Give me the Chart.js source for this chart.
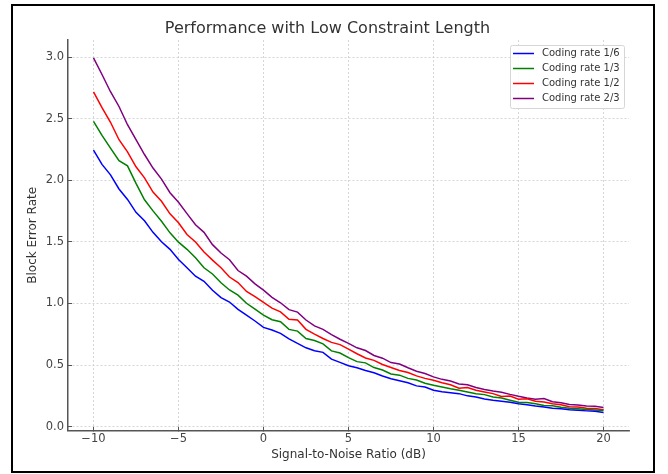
<!DOCTYPE html>
<html>
<head>
<meta charset="utf-8">
<script src="https://cdn.jsdelivr.net/npm/chart.js@4.4.0/dist/chart.umd.min.js"></script>
<style>
    html, body { margin: 0; padding: 0; background: #fff; }
    #wrap { width: 668px; height: 474px; position: relative; }
</style>
</head>
<body>
<div id="wrap"><canvas id="grafico"></canvas></div>
<script>

// SNR (dB)
const snr = [-10, -9.5, -9, -8.5, -8, -7.5, -7, -6.5, -6, -5.5, -5, -4.5, -4, -3.5, -3, -2.5, -2, -1.5, -1, -0.5,
    0, 0.5, 1, 1.5, 2, 2.5, 3, 3.5, 4, 4.5, 5, 5.5, 6, 6.5, 7, 7.5, 8, 8.5, 9, 9.5,
    10, 10.5, 11, 11.5, 12, 12.5, 13, 13.5, 14, 14.5, 15, 15.5, 16, 16.5, 17, 17.5, 18, 18.5, 19, 19.5, 20];

const rate16 = [2.245, 2.130, 2.045, 1.930, 1.845, 1.740, 1.672, 1.578, 1.502, 1.440, 1.358, 1.290, 1.222, 1.180, 1.108, 1.048, 1.012, 0.952, 0.905, 0.858,
    0.806, 0.785, 0.757, 0.712, 0.676, 0.640, 0.617, 0.603, 0.548, 0.522, 0.494, 0.478, 0.456, 0.438, 0.411, 0.389, 0.372, 0.356, 0.331, 0.322,
    0.296, 0.284, 0.276, 0.268, 0.250, 0.240, 0.225, 0.214, 0.206, 0.198, 0.186, 0.178, 0.168, 0.160, 0.150, 0.146, 0.137, 0.133, 0.128, 0.124, 0.115];

const rate13 = [2.480, 2.365, 2.262, 2.160, 2.118, 1.975, 1.842, 1.752, 1.668, 1.574, 1.498, 1.440, 1.372, 1.290, 1.240, 1.168, 1.110, 1.068, 1.002, 0.955,
    0.906, 0.868, 0.852, 0.790, 0.776, 0.716, 0.700, 0.672, 0.615, 0.598, 0.560, 0.528, 0.518, 0.480, 0.460, 0.428, 0.418, 0.392, 0.378, 0.352,
    0.336, 0.322, 0.308, 0.296, 0.282, 0.268, 0.260, 0.240, 0.232, 0.215, 0.198, 0.196, 0.186, 0.172, 0.170, 0.158, 0.150, 0.146, 0.140, 0.136, 0.132];

const rate12 = [2.718, 2.590, 2.472, 2.330, 2.232, 2.110, 2.020, 1.905, 1.830, 1.728, 1.655, 1.560, 1.500, 1.418, 1.352, 1.290, 1.215, 1.170, 1.098, 1.055,
    1.010, 0.962, 0.932, 0.872, 0.866, 0.790, 0.752, 0.716, 0.684, 0.666, 0.630, 0.592, 0.558, 0.538, 0.505, 0.480, 0.456, 0.440, 0.412, 0.392,
    0.376, 0.356, 0.340, 0.312, 0.318, 0.296, 0.282, 0.268, 0.245, 0.248, 0.222, 0.226, 0.206, 0.200, 0.186, 0.178, 0.162, 0.160, 0.150, 0.148, 0.138];

const rate23 = [2.995, 2.860, 2.720, 2.600, 2.452, 2.330, 2.210, 2.100, 2.010, 1.900, 1.822, 1.730, 1.640, 1.578, 1.478, 1.410, 1.356, 1.268, 1.222, 1.160,
    1.108, 1.050, 1.006, 0.950, 0.930, 0.866, 0.818, 0.790, 0.748, 0.710, 0.676, 0.640, 0.618, 0.578, 0.556, 0.520, 0.508, 0.478, 0.450, 0.432,
    0.404, 0.384, 0.370, 0.346, 0.340, 0.318, 0.302, 0.290, 0.280, 0.262, 0.246, 0.232, 0.222, 0.228, 0.202, 0.194, 0.180, 0.176, 0.168, 0.165, 0.156];

const xTicks = [-10, -5, 0, 5, 10, 15, 20];
const yTicks = [0, 0.5, 1, 1.5, 2, 2.5, 3];
const nomes = ['Coding rate 1/6', 'Coding rate 1/3', 'Coding rate 1/2', 'Coding rate 2/3'];
const cores = ['blue', 'green', 'red', 'purple'];
const series = [rate16, rate13, rate12, rate23];

const fonte = 'DejaVu Sans';

// moldura preta + fundo branco
const moldura = {
    id: 'moldura',
    beforeDraw(chart) {
        const ctx = chart.ctx;
        ctx.save();
        ctx.fillStyle = '#fff';
        ctx.fillRect(0, 0, chart.width, chart.height);
        ctx.restore();
    },
    afterDraw(chart) {
        const ctx = chart.ctx;
        ctx.save();
        ctx.strokeStyle = '#000';
        ctx.lineWidth = 2;
        ctx.strokeRect(12, 5, 642, 467);
        ctx.restore();
    }
};

// legenda no canto superior direito, estilo matplotlib
const legenda = {
    id: 'legenda',
    afterDatasetsDraw(chart) {
        const ctx = chart.ctx;
        const a = chart.chartArea;
        const x0 = a.right - 119, y0 = a.top + 5, w = 114, h = 63;
        ctx.save();
        ctx.fillStyle = 'rgba(255,255,255,0.85)';
        ctx.strokeStyle = '#d6d6d6';
        ctx.lineWidth = 1;
        ctx.beginPath();
        ctx.roundRect(x0 + 0.5, y0 + 0.5, w, h, 2);
        ctx.fill();
        ctx.stroke();
        ctx.font = '10px "' + fonte + '"';
        ctx.textBaseline = 'middle';
        chart.data.datasets.forEach((ds, i) => {
            const y = y0 + 8.5 + i * 15;
            ctx.strokeStyle = ds.borderColor;
            ctx.lineWidth = 1.5;
            ctx.beginPath();
            ctx.moveTo(x0 + 3, y);
            ctx.lineTo(x0 + 24, y);
            ctx.stroke();
            ctx.fillStyle = '#333';
            ctx.fillText(ds.label, x0 + 32, y);
        });
        ctx.restore();
    }
};

const grade = {
    color: '#cccccc',
    lineWidth: 0.8,
    tickLength: -4,
    tickColor: '#555',
    tickWidth: 1,
    tickBorderDash: []
};

// no v4 o tracejado da grade fica em border.dash
const eixo = { display: true, color: '#555', width: 1.5, dash: [2, 2] };

new Chart(document.getElementById('grafico'), {
    type: 'line',
    data: {
        datasets: series.map((s, i) => ({
            label: nomes[i],
            data: snr.map((x, j) => ({ x: x, y: s[j] })),
            borderColor: cores[i],
            backgroundColor: cores[i],
            borderWidth: 1.5,
            pointRadius: 0,
            tension: 0,
            fill: false
        }))
    },
    options: {
        responsive: true,
        maintainAspectRatio: false,
        animation: false,
        layout: { padding: { left: 26, right: 39, top: 0, bottom: 0 } },
        plugins: {
            legend: { display: false },
            tooltip: { enabled: false },
            title: {
                display: true,
                text: 'Performance with Low Constraint Length',
                color: '#333',
                font: { family: fonte, size: 16, weight: 'normal' },
                padding: { top: 19, bottom: 1.8 }
            }
        },
        scales: {
            x: {
                type: 'linear',
                min: -11.5,
                max: 21.5,
                afterBuildTicks: s => { s.ticks = xTicks.map(v => ({ value: v })); },
                afterFit: s => { s.height = 43.3; },
                grid: grade,
                border: eixo,
                ticks: {
                    color: '#444',
                    padding: 5,
                    font: { family: fonte, size: 11.5 },
                    callback: v => String(v).replace('-', '\u2212')
                },
                title: {
                    display: true,
                    text: 'Signal-to-Noise Ratio (dB)',
                    color: '#333',
                    font: { family: fonte, size: 12 },
                    padding: { top: 0, bottom: 11.8 }
                }
            },
            y: {
                min: -0.033,
                max: 3.14,
                afterBuildTicks: s => { s.ticks = yTicks.map(v => ({ value: v })); },
                afterFit: s => { s.width = 42; },
                grid: grade,
                border: eixo,
                ticks: {
                    color: '#444',
                    padding: 8,
                    font: { family: fonte, size: 11.5 },
                    callback: v => v.toFixed(1)
                },
                title: {
                    display: true,
                    text: 'Block Error Rate',
                    color: '#333',
                    font: { family: fonte, size: 12 },
                    padding: { top: 0, bottom: 0 }
                }
            }
        }
    },
    plugins: [moldura, legenda]
});
</script>
</body>
</html>
